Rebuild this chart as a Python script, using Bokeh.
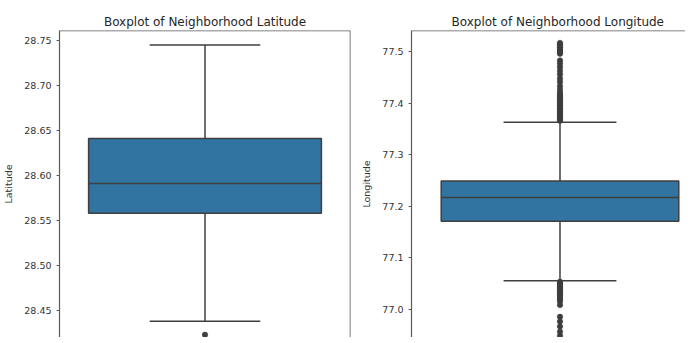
from bokeh.plotting import figure
from bokeh.layouts import row
from bokeh.models import Range1d, Span, FixedTicker, PrintfTickFormatter
from bokeh.embed import file_html
from bokeh.resources import INLINE

# ---- data ----
lat_stats = {"q1": 28.558, "median": 28.591, "q3": 28.641, "low": 28.438, "high": 28.745}
lat_outliers = [28.423]
lat_ticks = [28.45, 28.50, 28.55, 28.60, 28.65, 28.70, 28.75]

lon_stats = {"q1": 77.171, "median": 77.217, "q3": 77.249, "low": 77.056, "high": 77.363}
lon_outliers_high = [77.366, 77.369, 77.372, 77.375, 77.378, 77.381, 77.384, 77.387, 77.390,
                     77.393, 77.396, 77.399, 77.402, 77.405, 77.408, 77.411, 77.414, 77.417,
                     77.421, 77.426, 77.433, 77.441, 77.448, 77.456, 77.463, 77.470, 77.477,
                     77.483, 77.496, 77.499, 77.502, 77.505, 77.508, 77.511, 77.514, 77.517]
lon_outliers_low = [77.054, 77.051, 77.048, 77.045, 77.042, 77.039, 77.036, 77.033, 77.030,
                    77.027, 77.024, 77.020, 77.016, 77.009, 76.986, 76.977, 76.967, 76.957,
                    76.949]
lon_ticks = [77.0, 77.1, 77.2, 77.3, 77.4, 77.5]

BOX_COLOR = "#3274a1"
LINE_COLOR = "#3f3f3f"
SPINE = "#5a5a5a"
BOX_W = 0.8
CAP_W = 0.38


def make_panel(title, ylabel, stats, outliers, ticks, fmt, y_range, x_range,
               frame_w, border_left, border_right, right_spine, title_align, title_offset):
    p = figure(frame_width=frame_w, frame_height=307, output_backend="svg", toolbar_location=None,
               x_range=x_range, y_range=y_range, min_border_left=border_left,
               min_border_right=border_right, min_border_bottom=0, min_border_top=30)
    p.title.text = title
    p.title.text_font = "DejaVu Sans"
    p.title.text_font_size = "12px"
    p.title.text_font_style = "normal"
    p.title.text_color = "#262626"
    p.title.align = title_align
    p.title.offset = title_offset
    p.title.standoff = 4
    p.outline_line_color = None
    p.grid.visible = False
    p.xaxis.visible = False
    ax = p.yaxis[0]
    ax.ticker = FixedTicker(ticks=ticks)
    ax.formatter = PrintfTickFormatter(format=fmt)
    ax.axis_label = ylabel
    ax.axis_label_text_font = "DejaVu Sans"
    ax.axis_label_text_font_size = "9.5px"
    ax.axis_label_text_font_style = "normal"
    ax.axis_label_text_color = "#333333"
    ax.axis_label_standoff = 7
    ax.major_label_text_font = "DejaVu Sans"
    ax.major_label_text_font_size = "9.5px"
    ax.major_label_text_color = "#333333"
    ax.major_label_standoff = 5
    ax.major_tick_out = 3
    ax.major_tick_in = 0
    ax.minor_tick_out = 0
    ax.minor_tick_in = 0
    ax.axis_line_color = SPINE
    ax.major_tick_line_color = SPINE
    ax.axis_line_width = 1.2

    # spines
    p.add_layout(Span(location=y_range.end, dimension="width", line_color=SPINE, line_width=1.6))
    if right_spine:
        p.add_layout(Span(location=x_range.end, dimension="height", line_color=SPINE, line_width=1.6))

    # whiskers
    p.segment(x0=[0, 0], x1=[0, 0], y0=[stats["q3"], stats["q1"]], y1=[stats["high"], stats["low"]],
              line_color=LINE_COLOR, line_width=1.5)
    p.segment(x0=[-CAP_W / 2] * 2, x1=[CAP_W / 2] * 2, y0=[stats["high"], stats["low"]],
              y1=[stats["high"], stats["low"]], line_color=LINE_COLOR, line_width=1.5)
    # box
    p.vbar(x=[0], width=BOX_W, bottom=[stats["q1"]], top=[stats["q3"]], fill_color=BOX_COLOR,
           line_color=LINE_COLOR, line_width=1.5)
    p.segment(x0=[-BOX_W / 2], x1=[BOX_W / 2], y0=[stats["median"]], y1=[stats["median"]],
              line_color=LINE_COLOR, line_width=1.5)
    # fliers
    p.scatter(x=[0] * len(outliers), y=outliers, marker="circle", size=5.5,
              fill_color="#3d3d3d", line_color="#3d3d3d", line_width=0.5)
    return p


p1 = make_panel("Boxplot of Neighborhood Latitude", "Latitude", lat_stats, lat_outliers,
                lat_ticks, "%.2f", Range1d(28.4199, 28.761), Range1d(-0.5, 0.5),
                frame_w=291, border_left=55, border_right=5, right_spine=True,
                title_align="center", title_offset=0)
p2 = make_panel("Boxplot of Neighborhood Longitude", "Longitude", lon_stats,
                lon_outliers_high + lon_outliers_low,
                lon_ticks, "%.1f", Range1d(76.9458, 77.541), Range1d(-0.5, 0.4226),
                frame_w=274, border_left=56, border_right=0, right_spine=False,
                title_align="left", title_offset=40)

layout = row(p1, p2)
open("out.html", "w").write(file_html(layout, INLINE))
